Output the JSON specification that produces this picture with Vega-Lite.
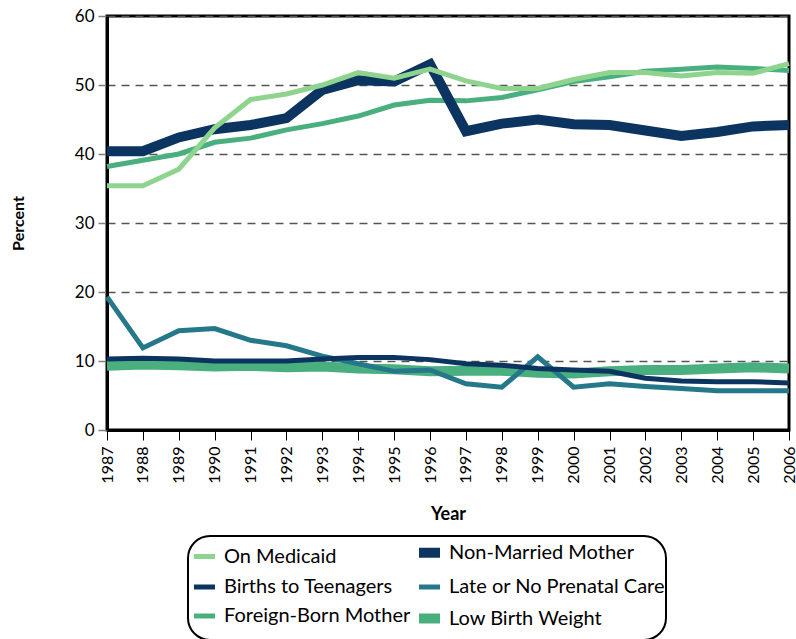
{
  "$schema": "https://vega.github.io/schema/vega-lite/v6.json",
  "autosize": "none",
  "width": 682,
  "height": 414,
  "padding": {"left": 107, "top": 16, "right": 7, "bottom": 209},
  "background": "white",
  "config": {
    "font": "Lato",
    "view": {"stroke": "black", "strokeWidth": 3}
  },
  "data": {
    "values": [
      {"year": 1987, "series": "Low Birth Weight", "value": 9.3},
      {"year": 1988, "series": "Low Birth Weight", "value": 9.5},
      {"year": 1989, "series": "Low Birth Weight", "value": 9.4},
      {"year": 1990, "series": "Low Birth Weight", "value": 9.2},
      {"year": 1991, "series": "Low Birth Weight", "value": 9.3},
      {"year": 1992, "series": "Low Birth Weight", "value": 9.1},
      {"year": 1993, "series": "Low Birth Weight", "value": 9.2},
      {"year": 1994, "series": "Low Birth Weight", "value": 8.9},
      {"year": 1995, "series": "Low Birth Weight", "value": 8.8},
      {"year": 1996, "series": "Low Birth Weight", "value": 8.5},
      {"year": 1997, "series": "Low Birth Weight", "value": 8.6},
      {"year": 1998, "series": "Low Birth Weight", "value": 8.6},
      {"year": 1999, "series": "Low Birth Weight", "value": 8.3},
      {"year": 2000, "series": "Low Birth Weight", "value": 8.2},
      {"year": 2001, "series": "Low Birth Weight", "value": 8.5},
      {"year": 2002, "series": "Low Birth Weight", "value": 8.7},
      {"year": 2003, "series": "Low Birth Weight", "value": 8.7},
      {"year": 2004, "series": "Low Birth Weight", "value": 8.9},
      {"year": 2005, "series": "Low Birth Weight", "value": 9.1},
      {"year": 2006, "series": "Low Birth Weight", "value": 8.9},
      {"year": 1987, "series": "Foreign-Born Mother", "value": 38.2},
      {"year": 1988, "series": "Foreign-Born Mother", "value": 39.1},
      {"year": 1989, "series": "Foreign-Born Mother", "value": 40.0},
      {"year": 1990, "series": "Foreign-Born Mother", "value": 41.7},
      {"year": 1991, "series": "Foreign-Born Mother", "value": 42.3},
      {"year": 1992, "series": "Foreign-Born Mother", "value": 43.5},
      {"year": 1993, "series": "Foreign-Born Mother", "value": 44.4},
      {"year": 1994, "series": "Foreign-Born Mother", "value": 45.5},
      {"year": 1995, "series": "Foreign-Born Mother", "value": 47.1},
      {"year": 1996, "series": "Foreign-Born Mother", "value": 47.8},
      {"year": 1997, "series": "Foreign-Born Mother", "value": 47.7},
      {"year": 1998, "series": "Foreign-Born Mother", "value": 48.2},
      {"year": 1999, "series": "Foreign-Born Mother", "value": 49.3},
      {"year": 2000, "series": "Foreign-Born Mother", "value": 50.5},
      {"year": 2001, "series": "Foreign-Born Mother", "value": 51.2},
      {"year": 2002, "series": "Foreign-Born Mother", "value": 52.0},
      {"year": 2003, "series": "Foreign-Born Mother", "value": 52.3},
      {"year": 2004, "series": "Foreign-Born Mother", "value": 52.6},
      {"year": 2005, "series": "Foreign-Born Mother", "value": 52.4},
      {"year": 2006, "series": "Foreign-Born Mother", "value": 52.1},
      {"year": 1987, "series": "Late or No Prenatal Care", "value": 19.3},
      {"year": 1988, "series": "Late or No Prenatal Care", "value": 11.9},
      {"year": 1989, "series": "Late or No Prenatal Care", "value": 14.4},
      {"year": 1990, "series": "Late or No Prenatal Care", "value": 14.7},
      {"year": 1991, "series": "Late or No Prenatal Care", "value": 13.0},
      {"year": 1992, "series": "Late or No Prenatal Care", "value": 12.2},
      {"year": 1993, "series": "Late or No Prenatal Care", "value": 10.7},
      {"year": 1994, "series": "Late or No Prenatal Care", "value": 9.6},
      {"year": 1995, "series": "Late or No Prenatal Care", "value": 8.5},
      {"year": 1996, "series": "Late or No Prenatal Care", "value": 8.7},
      {"year": 1997, "series": "Late or No Prenatal Care", "value": 6.7},
      {"year": 1998, "series": "Late or No Prenatal Care", "value": 6.2},
      {"year": 1999, "series": "Late or No Prenatal Care", "value": 10.6},
      {"year": 2000, "series": "Late or No Prenatal Care", "value": 6.2},
      {"year": 2001, "series": "Late or No Prenatal Care", "value": 6.7},
      {"year": 2002, "series": "Late or No Prenatal Care", "value": 6.3},
      {"year": 2003, "series": "Late or No Prenatal Care", "value": 6.0},
      {"year": 2004, "series": "Late or No Prenatal Care", "value": 5.7},
      {"year": 2005, "series": "Late or No Prenatal Care", "value": 5.7},
      {"year": 2006, "series": "Late or No Prenatal Care", "value": 5.7},
      {"year": 1987, "series": "Births to Teenagers", "value": 10.3},
      {"year": 1988, "series": "Births to Teenagers", "value": 10.4},
      {"year": 1989, "series": "Births to Teenagers", "value": 10.3},
      {"year": 1990, "series": "Births to Teenagers", "value": 10.0},
      {"year": 1991, "series": "Births to Teenagers", "value": 10.0},
      {"year": 1992, "series": "Births to Teenagers", "value": 10.0},
      {"year": 1993, "series": "Births to Teenagers", "value": 10.3},
      {"year": 1994, "series": "Births to Teenagers", "value": 10.5},
      {"year": 1995, "series": "Births to Teenagers", "value": 10.5},
      {"year": 1996, "series": "Births to Teenagers", "value": 10.2},
      {"year": 1997, "series": "Births to Teenagers", "value": 9.6},
      {"year": 1998, "series": "Births to Teenagers", "value": 9.4},
      {"year": 1999, "series": "Births to Teenagers", "value": 8.9},
      {"year": 2000, "series": "Births to Teenagers", "value": 8.7},
      {"year": 2001, "series": "Births to Teenagers", "value": 8.5},
      {"year": 2002, "series": "Births to Teenagers", "value": 7.5},
      {"year": 2003, "series": "Births to Teenagers", "value": 7.1},
      {"year": 2004, "series": "Births to Teenagers", "value": 7.0},
      {"year": 2005, "series": "Births to Teenagers", "value": 7.0},
      {"year": 2006, "series": "Births to Teenagers", "value": 6.8},
      {"year": 1987, "series": "Non-Married Mother", "value": 40.4},
      {"year": 1988, "series": "Non-Married Mother", "value": 40.4},
      {"year": 1989, "series": "Non-Married Mother", "value": 42.4},
      {"year": 1990, "series": "Non-Married Mother", "value": 43.6},
      {"year": 1991, "series": "Non-Married Mother", "value": 44.2},
      {"year": 1992, "series": "Non-Married Mother", "value": 45.2},
      {"year": 1993, "series": "Non-Married Mother", "value": 49.3},
      {"year": 1994, "series": "Non-Married Mother", "value": 50.7},
      {"year": 1995, "series": "Non-Married Mother", "value": 50.5},
      {"year": 1996, "series": "Non-Married Mother", "value": 53.0},
      {"year": 1997, "series": "Non-Married Mother", "value": 43.3},
      {"year": 1998, "series": "Non-Married Mother", "value": 44.4},
      {"year": 1999, "series": "Non-Married Mother", "value": 45.0},
      {"year": 2000, "series": "Non-Married Mother", "value": 44.3},
      {"year": 2001, "series": "Non-Married Mother", "value": 44.2},
      {"year": 2002, "series": "Non-Married Mother", "value": 43.4},
      {"year": 2003, "series": "Non-Married Mother", "value": 42.6},
      {"year": 2004, "series": "Non-Married Mother", "value": 43.2},
      {"year": 2005, "series": "Non-Married Mother", "value": 44.0},
      {"year": 2006, "series": "Non-Married Mother", "value": 44.2},
      {"year": 1987, "series": "On Medicaid", "value": 35.4},
      {"year": 1988, "series": "On Medicaid", "value": 35.4},
      {"year": 1989, "series": "On Medicaid", "value": 37.8},
      {"year": 1990, "series": "On Medicaid", "value": 43.8},
      {"year": 1991, "series": "On Medicaid", "value": 47.9},
      {"year": 1992, "series": "On Medicaid", "value": 48.7},
      {"year": 1993, "series": "On Medicaid", "value": 50.0},
      {"year": 1994, "series": "On Medicaid", "value": 51.8},
      {"year": 1995, "series": "On Medicaid", "value": 51.0},
      {"year": 1996, "series": "On Medicaid", "value": 52.3},
      {"year": 1997, "series": "On Medicaid", "value": 50.6},
      {"year": 1998, "series": "On Medicaid", "value": 49.5},
      {"year": 1999, "series": "On Medicaid", "value": 49.5},
      {"year": 2000, "series": "On Medicaid", "value": 50.8},
      {"year": 2001, "series": "On Medicaid", "value": 51.8},
      {"year": 2002, "series": "On Medicaid", "value": 51.8},
      {"year": 2003, "series": "On Medicaid", "value": 51.3},
      {"year": 2004, "series": "On Medicaid", "value": 51.8},
      {"year": 2005, "series": "On Medicaid", "value": 51.7},
      {"year": 2006, "series": "On Medicaid", "value": 53.1}
    ]
  },
  "mark": {"type": "line", "strokeJoin": "miter", "strokeCap": "butt"},
  "encoding": {
    "x": {
      "field": "year",
      "type": "quantitative",
      "scale": {"domain": [1987, 2006], "nice": false, "zero": false},
      "axis": {
        "values": [1987,1988,1989,1990,1991,1992,1993,1994,1995,1996,1997,1998,1999,2000,2001,2002,2003,2004,2005,2006],
        "format": "d",
        "labelAngle": -90,
        "labelAlign": "right",
        "labelBaseline": "middle",
        "labelFontSize": 16,
        "labelColor": "black",
        "labelPadding": 6,
        "labelFlush": false,
        "labelOverlap": false,
        "tickColor": "black",
        "tickSize": 10,
        "tickWidth": 1,
        "domainColor": "black",
        "domainWidth": 3,
        "grid": false,
        "title": "Year",
        "titleFontSize": 18,
        "titleFontWeight": "bold",
        "titleColor": "black",
        "titlePadding": 22
      }
    },
    "y": {
      "field": "value",
      "type": "quantitative",
      "scale": {"domain": [0, 60], "nice": false},
      "axis": {
        "values": [0, 10, 20, 30, 40, 50, 60],
        "labelFontSize": 17,
        "labelColor": "black",
        "labelPadding": 4,
        "tickColor": "#808080",
        "tickSize": 9,
        "tickWidth": 1.5,
        "domainColor": "black",
        "domainWidth": 3,
        "grid": true,
        "gridColor": "#555555",
        "gridDash": [8, 6],
        "gridWidth": 1.5,
        "title": "Percent",
        "titleFontSize": 16,
        "titleFontWeight": "bold",
        "titleColor": "black",
        "titlePadding": 48
      }
    },
    "color": {
      "field": "series",
      "type": "nominal",
      "scale": {
        "domain": ["On Medicaid", "Births to Teenagers", "Foreign-Born Mother", "Non-Married Mother", "Late or No Prenatal Care", "Low Birth Weight"],
        "range": ["#8fd48e", "#0b3560", "#4aaf7f", "#0b3560", "#25788a", "#4aaf7f"]
      },
      "legend": {
        "orient": "none",
        "legendX": 81,
        "legendY": 520,
        "columns": 2,
        "title": null,
        "symbolType": "stroke",
        "symbolSize": 440,
        "labelFontSize": 20,
        "labelColor": "black",
        "labelOffset": 4,
        "labelLimit": 400,
        "columnPadding": -12,
        "rowPadding": 1,
        "padding": 1,
        "strokeColor": "black",
        "cornerRadius": 22,
        "fillColor": "white",
        "encode": {
          "legend": {"update": {"strokeWidth": {"value": 2}}}
        }
      }
    },
    "strokeWidth": {
      "field": "series",
      "type": "nominal",
      "scale": {
        "type": "ordinal",
        "domain": ["On Medicaid", "Births to Teenagers", "Foreign-Born Mother", "Non-Married Mother", "Late or No Prenatal Care", "Low Birth Weight"],
        "range": [5, 5, 5, 10, 5, 10]
      },
      "legend": {
        "orient": "none",
        "legendX": 81,
        "legendY": 520,
        "columns": 2,
        "title": null
      }
    }
  }
}
